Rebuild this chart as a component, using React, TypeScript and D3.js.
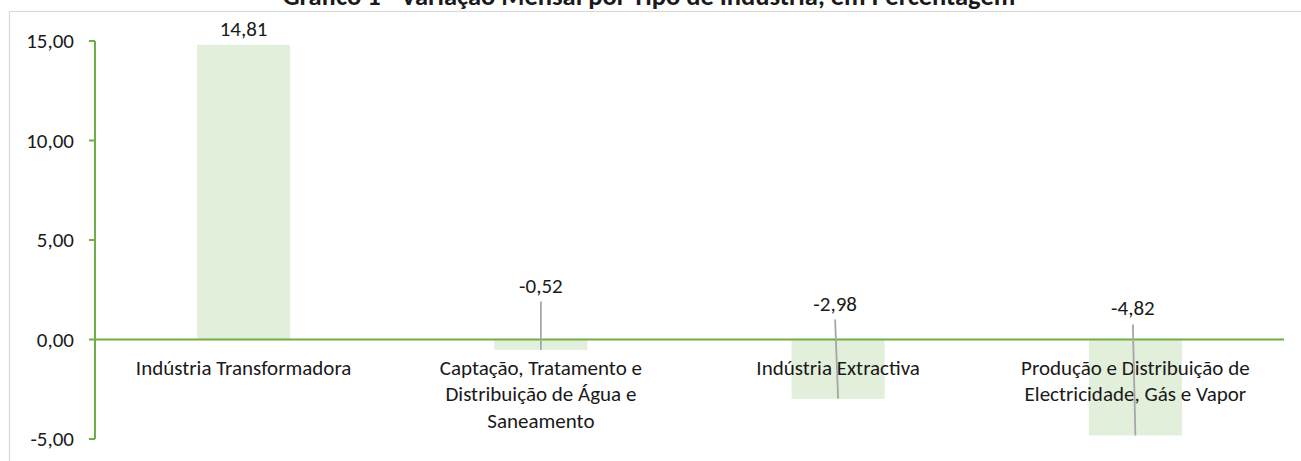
import React from 'react';
import * as d3 from 'd3';

const categories = [
  'Indústria Transformadora',
  'Captação, Tratamento e Distribuição de Água e Saneamento',
  'Indústria Extractiva',
  'Produção e Distribuição de Electricidade, Gás e Vapor',
];
const categoryLines = [
  ['Indústria Transformadora'],
  ['Captação, Tratamento e', 'Distribuição de Água e', 'Saneamento'],
  ['Indústria Extractiva'],
  ['Produção e Distribuição de', 'Electricidade, Gás e Vapor'],
];
const values = [14.81, -0.52, -2.98, -4.82];
const yTicks = [-5, 0, 5, 10, 15];
const title = 'Gráfico 1 - Variação Mensal por Tipo de Indústria, em Percentagem';

// manual label placement for the negative bars (pixels above the zero line)
const labelLift = [0, 47, 29, 25];
const leaderGap = [0, 9, 9, 10];
const leaderTilt = [0, 0, -3, -2.5];

const W = 1301;
const H = 461;
const FONT = 'Calibri, Lato, sans-serif';
const FS = 21;
const GREEN = '#70ad47';

const fmt = (v: number) => d3.format('.2f')(v).replace('.', ',').replace('\u2212', '-');

export default function App() {
  const x = d3.scaleBand<string>()
    .domain(categories)
    .range([95, 1284])
    .paddingInner(0.687)
    .paddingOuter(0.3435);
  const y = d3.scaleLinear().domain([-5, 15]).range([439, 41]);
  const y0 = y(0);

  return (
    <svg width={W} height={H} style={{ position: 'absolute', left: 0, top: 0, background: '#fff' }}
      fontFamily={FONT}>
      <rect x={9.5} y={11.5} width={1400} height={600} fill="none" stroke="#d9d9d9" strokeWidth={1.2} />
      <text x={649} y={5} textAnchor="middle" fontWeight="bold" fontSize={26.5} fill="#1a1a1a">{title}</text>

      {categories.map((c, i) => {
        const v = values[i];
        const bx = x(c)!;
        return (
          <rect key={c} x={bx} width={x.bandwidth()} y={Math.min(y(v), y0)}
            height={Math.abs(y(v) - y0)} fill="#e2efda" />
        );
      })}

      {/* y axis */}
      <line x1={95} x2={95} y1={y(15)} y2={y(-5)} stroke={GREEN} strokeWidth={2} />
      {yTicks.map(t => (
        <g key={t}>
          <line x1={89} x2={95} y1={y(t)} y2={y(t)} stroke={GREEN} strokeWidth={2} />
          <text x={74} y={y(t) + 7} textAnchor="end" fontSize={FS} fill="#1a1a1a">{fmt(t)}</text>
        </g>
      ))}
      {/* zero line */}
      <line x1={95} x2={1284} y1={y0} y2={y0} stroke={GREEN} strokeWidth={2} />

      {/* category labels */}
      {categories.map((c, i) => {
        const cx = x(c)! + x.bandwidth() / 2;
        return (
          <text key={c} textAnchor="middle" fontSize={FS} fill="#1a1a1a">
            {categoryLines[i].map((ln, j) => (
              <tspan key={j} x={cx} y={y0 + 35 + j * 26.5}>{ln}</tspan>
            ))}
          </text>
        );
      })}

      {/* value labels */}
      {categories.map((c, i) => {
        const v = values[i];
        const cx = x(c)! + x.bandwidth() / 2;
        if (v >= 0) {
          return (
            <text key={c} x={cx} y={y(v) - 9} textAnchor="middle" fontSize={FS} fill="#1a1a1a">{fmt(v)}</text>
          );
        }
        const ly = y0 - labelLift[i];
        const lx = cx + leaderTilt[i];
        return (
          <g key={c}>
            <line x1={lx} y1={ly + leaderGap[i]} x2={cx} y2={y(v)} stroke="#a6a6a6" strokeWidth={1.8} />
            <text x={lx} y={ly} textAnchor="middle" fontSize={FS} fill="#1a1a1a">{fmt(v)}</text>
          </g>
        );
      })}
    </svg>
  );
}
